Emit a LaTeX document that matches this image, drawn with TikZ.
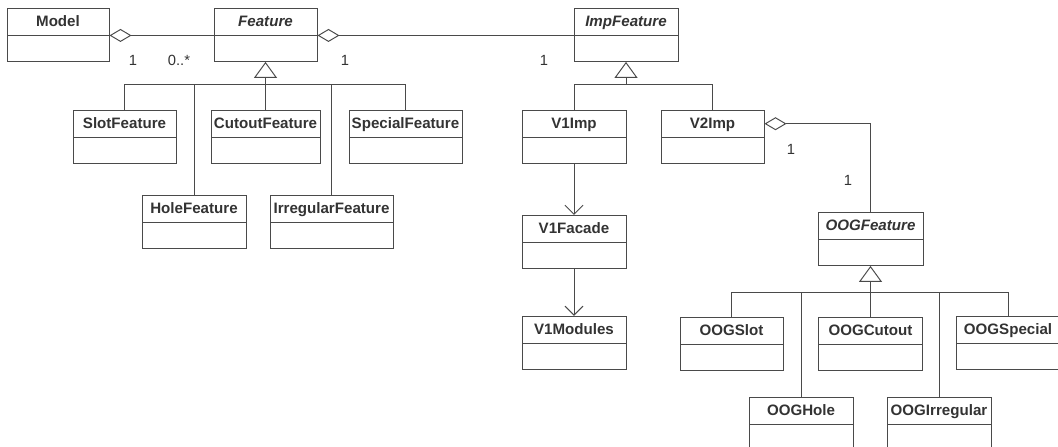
\documentclass[tikz,border=0pt]{standalone}
\usepackage{fontspec}
\setmainfont{Liberation Sans}
\usepackage{xcolor}
\definecolor{linie}  {HTML}{4A4A4A}
\definecolor{schrift}{HTML}{333333}
\usetikzlibrary{arrows.meta,positioning,calc,shapes.multipart}

% name compartment + empty attribute compartment
\newcommand{\klasse}[1]{\rule[-1.6mm]{0pt}{5.2mm}#1\nodepart{two}\rule{0pt}{5mm}}

\begin{document}
\begin{tikzpicture}[
  x=0.2mm, y=-0.2mm,
  font=\fontsize{8.4}{10}\selectfont,
  kls/.style={rectangle split, rectangle split parts=2, draw=linie, line width=0.55pt,
    inner xsep=0pt, inner ysep=0pt, align=center, text=schrift, font=\fontsize{8.6}{10}\selectfont\bfseries,
    anchor=north, text width=20.6mm},
  abstr/.style={font=\fontsize{8.6}{10}\selectfont\bfseries\itshape},
  linie/.style={draw=linie, line width=0.55pt},
  erbt/.style={linie, -{Triangle[open, length=3.2mm, width=4.6mm]}},
  aggr/.style={linie, {Diamond[open, length=4.4mm, width=2.6mm]}-},
  navi/.style={linie, -{Straight Barb[length=1.8mm, width=3.6mm]}},
  mult/.style={text=schrift, inner sep=1pt}]
  \useasboundingbox (0,0) rectangle (1058,447);
  \clip (0,0) rectangle (1058,447);
  % Model und Feature
  \node[kls, text width=20.4mm] (model) at (58,8) {\klasse{Model}};
  \node[kls, abstr] (feature) at (265.5,8) {\klasse{Feature}};
  \node[kls, abstr, text width=20.8mm] (impf) at (626,8) {\klasse{ImpFeature}};
  % Feature-Unterklassen
  \node[kls] (slot) at (124.5,110) {\klasse{SlotFeature}};
  \node[kls, text width=21.8mm] (cutout) at (265.5,110) {\klasse{CutoutFeature}};
  \node[kls, text width=22.6mm] (special) at (405.5,110) {\klasse{SpecialFeature}};
  \node[kls, text width=20.8mm] (hole) at (194,195) {\klasse{HoleFeature}};
  \node[kls, text width=24.6mm] (irreg) at (331.5,195) {\klasse{IrregularFeature}};
  % Implementierungen
  \node[kls, text width=20.8mm] (v1imp) at (574,110) {\klasse{V1Imp}};
  \node[kls] (v2imp) at (712.5,110) {\klasse{V2Imp}};
  \node[kls, text width=20.8mm, below=10.2mm of v1imp] (v1fac) {\klasse{V1Facade}};
  \node[kls, text width=20.8mm, below=9.4mm of v1fac] (v1mod) {\klasse{V1Modules}};
  % OOG
  \node[kls, abstr, text width=21mm] (oogf) at (870.5,212) {\klasse{OOGFeature}};
  \node[kls] (oogslot) at (731.5,317) {\klasse{OOGSlot}};
  \node[kls, text width=20.8mm] (oogcut) at (870.5,317) {\klasse{OOGCutout}};
  \node[kls, text width=20.8mm] (oogspec) at (1008,316) {\klasse{OOGSpecial}};
  \node[kls, text width=20.8mm] (ooghole) at (801,397) {\klasse{OOGHole}};
  \node[kls, text width=20.8mm] (oogirr) at (939,397) {\klasse{OOGIrregular}};
  % Verzweigungen
  \coordinate (fj) at (265.5,84);
  \coordinate (ij) at (626,84);
  \coordinate (oj) at (870.5,292);
  % Aggregationen
  \draw[aggr] (model.text split east) -- (feature.text split west);
  \draw[aggr] (feature.text split east) -- (impf.text split west);
  \draw[aggr] ($(v2imp.north east)!0.5!(v2imp.text split east)$) -| (oogf.north);
  \node[mult] (m1) at (133,60) {1};
  \node[mult] (m2) at (179,60) {0..*};
  \node[mult] (m3) at (345,60) {1};
  \node[mult] (m4) at (544,60) {1};
  \node[mult] (m5) at (791,149) {1};
  \node[mult] (m6) at (848,180) {1};
  % Vererbung
  \draw[erbt] (fj) -- (feature.south);
  \foreach \k in {slot,cutout,special,hole,irreg}
    \draw[linie] (fj) -| (\k.north);
  \draw[erbt] (ij) -- (impf.south);
  \foreach \k in {v1imp,v2imp}
    \draw[linie] (ij) -| (\k.north);
  \draw[erbt] (oj) -- (oogf.south);
  \foreach \k in {oogslot,oogcut,oogspec,ooghole,oogirr}
    \draw[linie] (oj) -| (\k.north);
  % Navigation
  \draw[navi] (v1imp.south) -- (v1fac.north);
  \draw[navi] (v1fac.south) -- (v1mod.north);
\end{tikzpicture}
\end{document}
